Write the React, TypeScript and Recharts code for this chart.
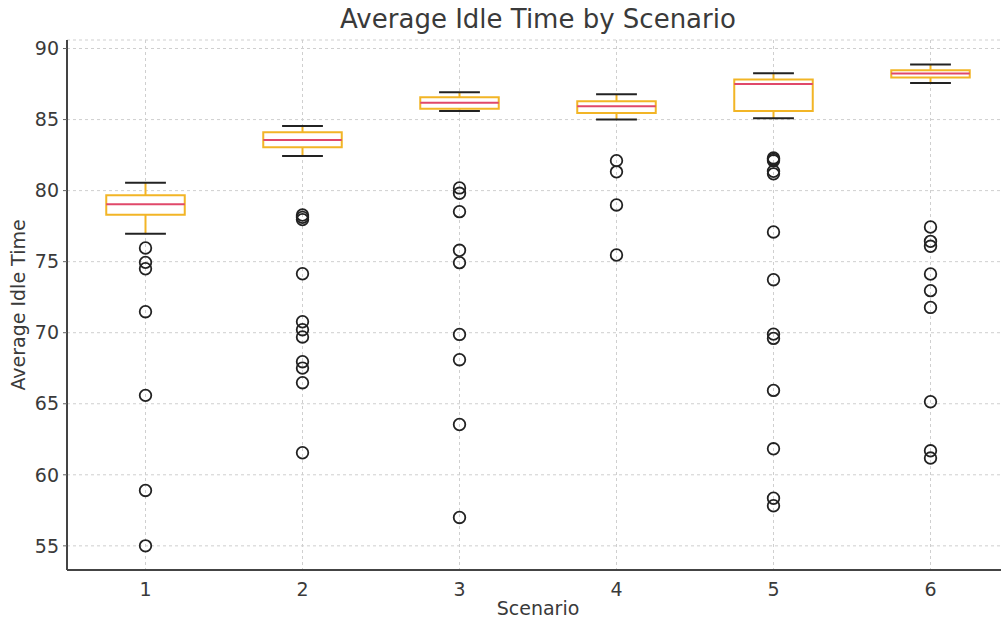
import React from 'react';
import {
  ComposedChart, Scatter, XAxis, YAxis, CartesianGrid, ReferenceArea, ReferenceLine,
} from 'recharts';

// box stats per scenario
const scenarios = [1, 2, 3, 4, 5, 6];
const whiskerLow = [76.97, 82.44, 85.61, 85.0, 85.09, 87.58];
const q1 = [78.31, 83.05, 85.77, 85.47, 85.61, 87.96];
const median = [79.04, 83.57, 86.18, 85.94, 87.51, 88.24];
const q3 = [79.67, 84.11, 86.57, 86.29, 87.82, 88.47];
const whiskerHigh = [80.56, 84.54, 86.92, 86.78, 88.26, 88.87];

// fliers per scenario
const outliers1 = [75.96, 74.95, 74.5, 71.48, 65.59, 58.9, 55.0];
const outliers2 = [78.28, 78.12, 77.96, 74.15, 70.77, 70.21, 69.7, 67.96, 67.51, 66.48, 61.55];
const outliers3 = [80.19, 79.81, 78.52, 75.8, 74.93, 69.88, 68.1, 63.54, 57.0];
const outliers4 = [82.11, 81.32, 78.99, 75.47];
const outliers5 = [82.3, 82.2, 82.1, 81.36, 81.18, 77.09, 73.73, 69.9, 69.6, 65.94, 61.83, 58.35, 57.82];
const outliers6 = [77.44, 76.43, 76.08, 74.13, 72.96, 71.78, 65.14, 61.69, 61.18];

const yTicks = [55, 60, 65, 70, 75, 80, 85, 90];

const BOX_HALF = 0.25;
const CAP_HALF = 0.13;
const BOX_COLOR = '#F2B526';
const MEDIAN_COLOR = '#E0486A';
const INK = '#222222';
const TEXT = '#3a3a3a';
const FONT = '"DejaVu Sans", sans-serif';

const flierData = [outliers1, outliers2, outliers3, outliers4, outliers5, outliers6].flatMap((vals, i) =>
  vals.map((v) => ({ scenario: scenarios[i], value: v }))
);

const Flier = (props: any) => {
  const { cx, cy } = props;
  return <circle cx={cx} cy={cy} r={5.8} fill="none" stroke={INK} strokeWidth={1.8} />;
};

const YLabel = (props: any) => {
  const { viewBox } = props;
  const cy = viewBox.y + viewBox.height / 2;
  return (
    <text x={18} y={cy} transform={`rotate(-90, 18, ${cy})`} textAnchor="middle" dominantBaseline="central"
      fill={TEXT} fontSize={19} fontFamily={FONT}>
      Average Idle Time
    </text>
  );
};

const XLabel = (props: any) => {
  const { viewBox } = props;
  return (
    <text x={viewBox.x + viewBox.width / 2} y={615} textAnchor="middle" fill={TEXT} fontSize={19} fontFamily={FONT}>
      Scenario
    </text>
  );
};

export default function App() {
  return (
    <div style={{ position: 'absolute', left: 0, top: 0, width: 1001, height: 626, overflow: 'hidden', background: '#fff' }}>
      <div style={{
        position: 'absolute', left: 0, top: 4, width: 1076, textAlign: 'center',
        fontFamily: FONT, fontSize: 26, color: TEXT, lineHeight: '30px',
      }}>
        Average Idle Time by Scenario
      </div>
      <ComposedChart width={1009} height={626} margin={{ top: 40, right: 0, bottom: 0, left: 0 }}>
        <CartesianGrid stroke="#cfcfcf" strokeDasharray="3 3" />
        <XAxis
          type="number"
          dataKey="scenario"
          domain={[0.5, 6.5]}
          ticks={scenarios}
          height={56}
          allowDataOverflow
          axisLine={{ stroke: '#444', strokeWidth: 2 }}
          tickLine={false}
          tickMargin={7}
          tick={{ fill: TEXT, fontSize: 19, fontFamily: FONT }}
          label={<XLabel />}
        />
        <YAxis
          type="number"
          dataKey="value"
          domain={[53.3, 90.6]}
          ticks={yTicks}
          width={67}
          allowDataOverflow
          axisLine={{ stroke: '#444', strokeWidth: 2 }}
          tickLine={{ stroke: '#666' }}
          tickSize={4}
          tickMargin={4}
          tick={{ fill: TEXT, fontSize: 19, fontFamily: FONT }}
          label={<YLabel />}
        />
        {scenarios.map((s, i) => (
          <ReferenceLine key={`wl${s}`} segment={[{ x: s, y: whiskerLow[i] }, { x: s, y: q1[i] }]}
            stroke={BOX_COLOR} strokeWidth={2} />
        ))}
        {scenarios.map((s, i) => (
          <ReferenceLine key={`wh${s}`} segment={[{ x: s, y: q3[i] }, { x: s, y: whiskerHigh[i] }]}
            stroke={BOX_COLOR} strokeWidth={2} />
        ))}
        {scenarios.map((s, i) => (
          <ReferenceLine key={`cl${s}`} segment={[{ x: s - CAP_HALF, y: whiskerLow[i] }, { x: s + CAP_HALF, y: whiskerLow[i] }]}
            stroke={INK} strokeWidth={2} />
        ))}
        {scenarios.map((s, i) => (
          <ReferenceLine key={`ch${s}`} segment={[{ x: s - CAP_HALF, y: whiskerHigh[i] }, { x: s + CAP_HALF, y: whiskerHigh[i] }]}
            stroke={INK} strokeWidth={2} />
        ))}
        {scenarios.map((s, i) => (
          <ReferenceArea key={`box${s}`} x1={s - BOX_HALF} x2={s + BOX_HALF} y1={q1[i]} y2={q3[i]}
            fill="#ffffff" fillOpacity={1} stroke={BOX_COLOR} strokeWidth={2} />
        ))}
        {scenarios.map((s, i) => (
          <ReferenceLine key={`med${s}`} segment={[{ x: s - BOX_HALF, y: median[i] }, { x: s + BOX_HALF, y: median[i] }]}
            stroke={MEDIAN_COLOR} strokeWidth={2} />
        ))}
        <Scatter data={flierData} dataKey="value" shape={<Flier />} isAnimationActive={false} />
      </ComposedChart>
    </div>
  );
}
